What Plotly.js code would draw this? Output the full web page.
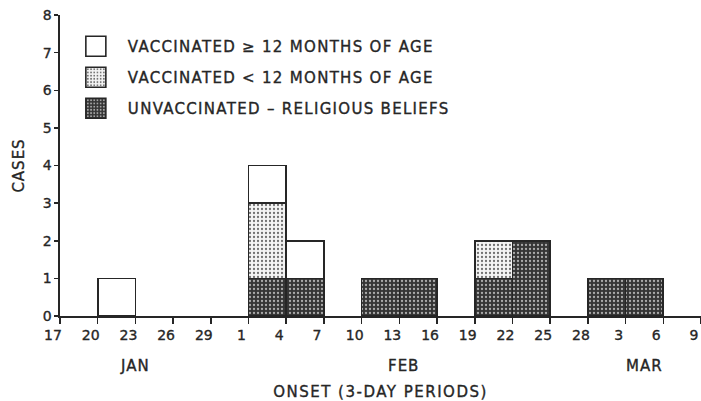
<!DOCTYPE html>
<html><head><meta charset="utf-8">
<script src="https://cdn.plot.ly/plotly-3.0.1.min.js"></script>
<style>
html,body{margin:0;padding:0;background:#fff}
#chart{width:701px;height:401px}
.legendtext{letter-spacing:1.3px}
.xtitle{letter-spacing:1.5px}
.ytitle{letter-spacing:1px}
.annotation-text{letter-spacing:1px}
.xtick text,.ytick text,.legendtext,.annotation-text,.xtitle,.ytitle{stroke:#262626;stroke-width:0.35px}
</style></head><body><div id="chart"></div>
<script>
// 3-day periods starting Jan 17 (index 0) ... Mar 6 (index 16)
const periodIndex = [0,1,2,3,4,5,6,7,8,9,10,11,12,13,14,15];
const unvaccinatedReligious = [0,0,0,0,0,1,1,0,1,1,0,1,2,0,1,1];
const vaccinatedUnder12 = [0,0,0,0,0,2,0,0,0,0,0,1,0,0,0,0];
const vaccinatedOver12 = [0,1,0,0,0,1,1,0,0,0,0,0,0,0,0,0];
const tickIndex = [0,1,2,3,4,5,6,7,8,9,10,11,12,13,14,15,16,17];
const tickLabels = ['17','20','23','26','29','1','4','7','10','13','16','19','22','25','28','3','6','9'];
const monthLabels = ['JAN','FEB','MAR'];
const monthPos = [2, 9.1, 15.5];
const yTicks = [0,1,2,3,4,5,6,7,8];

const ink = '#262626';
const font = 'DejaVu Sans, sans-serif';
const line = {color: ink, width: 1.6};
const nz = arr => arr.map(v => v === 0 ? null : v);

const traces = [
  {name: 'VACCINATED \u2265 12 MONTHS OF AGE', y: nz(vaccinatedOver12), legendgroup: 'a', legendrank: 1,
   marker: {color: '#ffffff', line: line}},
  {name: 'VACCINATED < 12 MONTHS OF AGE', y: nz(vaccinatedUnder12), legendgroup: 'b', legendrank: 2,
   marker: {color: '#f2f2f2', line: line,
     pattern: {shape: '.', bgcolor: '#f4f4f4', fgcolor: '#707070', size: 4, solidity: 0.25, fillmode: 'replace'}}},
  {name: 'UNVACCINATED \u2013 RELIGIOUS BELIEFS', y: nz(unvaccinatedReligious), legendgroup: 'c', legendrank: 3,
   marker: {color: '#3a3a3a', line: line,
     pattern: {shape: '.', bgcolor: '#353535', fgcolor: '#ababab', size: 4, solidity: 0.26, fillmode: 'replace'}}}
].map(t => Object.assign({type: 'bar', x: periodIndex, width: 1, offset: 0, hoverinfo: 'skip'}, t));
// stack order bottom-up: unvaccinated, <12, >=12
traces.reverse();

const layout = {
  width: 701, height: 401,
  margin: {l: 60, r: 0, t: 15, b: 85},
  paper_bgcolor: '#fff', plot_bgcolor: '#fff',
  barmode: 'stack', bargap: 0,
  font: {family: font, color: ink, size: 14},
  showlegend: true,
  legend: {x: 0.006, y: 0.95, xanchor: 'left', yanchor: 'top', traceorder: 'grouped',
    tracegroupgap: 8.5, font: {family: font, size: 15, color: ink}, bgcolor: 'rgba(0,0,0,0)', itemwidth: 54},
  xaxis: {range: [0, 17], tickvals: tickIndex, ticktext: tickLabels, ticks: 'outside', ticklen: 6,
    tickwidth: 1.5, tickcolor: ink, showline: true, linecolor: ink, linewidth: 1.6, showgrid: false,
    zeroline: false, ticklabelshift: -7, tickfont: {size: 14},
    title: {text: 'ONSET (3-DAY PERIODS)', font: {size: 15}, standoff: 44}},
  yaxis: {range: [0, 8], tickvals: yTicks, ticks: 'outside', ticklen: 4, tickwidth: 1.5, tickcolor: ink,
    showline: true, linecolor: ink, linewidth: 1.6, showgrid: false, zeroline: false, tickfont: {size: 14},
    title: {text: 'CASES', font: {size: 15}, standoff: 14}},
  annotations: monthLabels.map((m, i) => ({text: m, x: monthPos[i], xref: 'x', y: 0, yref: 'paper',
    yshift: -50, yanchor: 'middle', showarrow: false, font: {size: 15, color: ink}}))
};

function bigLegendBoxes() {
  document.querySelectorAll('#chart .legend .legendpoints path').forEach(p => {
    p.setAttribute('d', 'M10,10H-10V-10H10Z');
  });
}
const gd = document.getElementById('chart');
Plotly.newPlot(gd, traces, layout, {staticPlot: true, displayModeBar: false}).then(() => {
  bigLegendBoxes();
  gd.on('plotly_afterplot', bigLegendBoxes);
});
</script></body></html>
